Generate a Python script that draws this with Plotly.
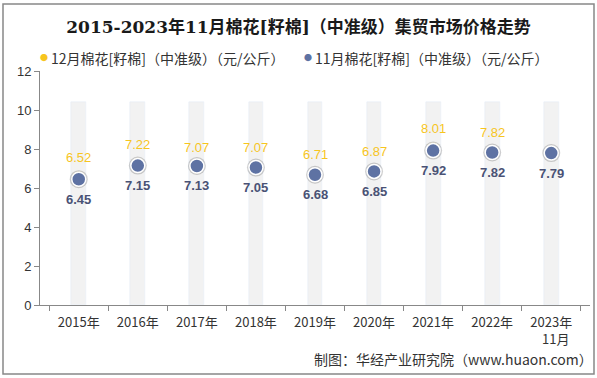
import plotly.graph_objects as go

years = ["2015年", "2016年", "2017年", "2018年", "2019年", "2020年", "2021年", "2022年", "2023年"]
dec_vals = [6.52, 7.22, 7.07, 7.07, 6.71, 6.87, 8.01, 7.82, None]
nov_vals = [6.45, 7.15, 7.13, 7.05, 6.68, 6.85, 7.92, 7.82, 7.79]
bg_vals = [10.4] * 9
y_ticks = [0, 2, 4, 6, 8, 10, 12]

name_dec = "12月棉花[籽棉]（中准级）（元/公斤）"
name_nov = "11月棉花[籽棉]（中准级）（元/公斤）"
font_cjk = "Noto Sans CJK SC, Noto Sans, sans-serif"
c_dec = "#F7C51E"
c_nov = "#5E72A3"

W, H = 597, 378
L, R, T, B = 40, 7, 71, 73
PW, PH = W - L - R, H - T - B


def px(x):
    return (x - L) / PW


def py(y):
    return (H - B - y) / PH


fig = go.Figure()
fig.add_trace(go.Bar(x=years, y=bg_vals, width=0.25, marker_color="#F2F2F2",
                     hoverinfo="skip", showlegend=False))
fig.add_trace(go.Scatter(x=years, y=dec_vals, mode="markers", name=name_dec, showlegend=False,
                         marker=dict(size=13, color=c_dec, line=dict(color="white", width=1))))
fig.add_trace(go.Scatter(x=years, y=nov_vals, mode="markers", showlegend=False,
                         marker=dict(size=18, color="rgba(40,40,40,0.22)"), hoverinfo="skip"))
fig.add_trace(go.Scatter(x=years, y=nov_vals, mode="markers", name=name_nov, showlegend=False,
                         marker=dict(size=14, color=c_nov, line=dict(color="white", width=1.5))))

for x, v in zip(years, dec_vals):
    if v is not None:
        fig.add_annotation(x=x, y=v, text=f"{v:.2f}", showarrow=False, yshift=20,
                           font=dict(color=c_dec, size=13, family="Arial"))
for x, v in zip(years, nov_vals):
    fig.add_annotation(x=x, y=v, text=f"<b>{v:.2f}</b>", showarrow=False, yshift=-20,
                       font=dict(color="#4A5275", size=13, family="Arial"))

# legend drawn as text
for dot_x, color, name in [(44, c_dec, name_dec), (308, c_nov, name_nov)]:
    fig.add_annotation(text="●", xref="paper", yref="paper", x=px(dot_x), y=py(58),
                       xanchor="center", yanchor="middle", showarrow=False,
                       font=dict(size=8, color=color))
    fig.add_annotation(text=name, xref="paper", yref="paper", x=px(dot_x + 5), y=py(58),
                       xanchor="left", yanchor="middle", showarrow=False,
                       font=dict(size=14, color="#333", family=font_cjk))

fig.update_layout(
    width=W, height=H,
    margin=dict(l=L, r=R, t=T, b=B),
    paper_bgcolor="white", plot_bgcolor="white",
    title=dict(text="<b>2015-2023年11月棉花[籽棉]（中准级）集贸市场价格走势</b>",
               x=0.5, xanchor="center", y=1 - 27 / H, yanchor="middle",
               font=dict(size=17, color="#1a1a1a", family="DejaVu Serif, Noto Sans CJK SC")),
    showlegend=False,
    bargap=0,
    font=dict(family=font_cjk),
)
fig.update_xaxes(showline=True, linecolor="#888", ticks="outside", tickson="boundaries",
                 tickcolor="#888", ticklen=5, ticklabelstandoff=5,
                 tickfont=dict(size=13, color="#333", family=font_cjk), showgrid=False)
fig.update_yaxes(range=[0, 12], tickvals=y_ticks, showline=True, linecolor="#888",
                 ticks="outside", tickcolor="#888", ticklen=5, showgrid=False, zeroline=False,
                 tickfont=dict(size=13, color="#333", family="Arial"))

fig.add_annotation(text="11月", xref="paper", yref="paper", x=px(555), y=py(338),
                   xanchor="center", yanchor="middle",
                   showarrow=False, font=dict(size=13, color="#333", family=font_cjk))
fig.add_annotation(text="制图：华经产业研究院（www.huaon.com）", xref="paper", yref="paper",
                   x=px(312), xanchor="left", y=py(359), yanchor="middle",
                   showarrow=False, font=dict(size=14, color="#333", family=font_cjk))
fig.add_shape(type="rect", xref="paper", yref="paper",
              x0=px(3), x1=px(594), y0=py(374), y1=py(4),
              line=dict(color="#888", width=1.5), layer="below")

fig.write_html("out.html", config={"displayModeBar": False},
               post_script="document.body.style.margin='0';")
